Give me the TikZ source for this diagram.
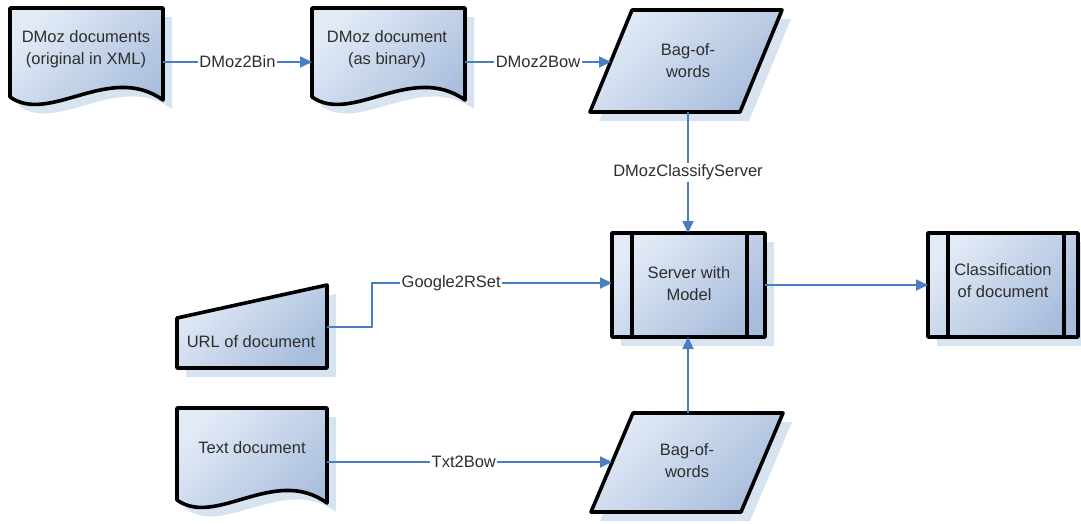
\documentclass[tikz,border=0pt]{standalone}
\usepackage{fontspec}
\setmainfont{Liberation Sans}
\usetikzlibrary{arrows.meta}
\definecolor{shapelight}{HTML}{E2EAF6}
\definecolor{shapedark}{HTML}{A8BDDC}
\definecolor{shadowc}{HTML}{D8E3F0}
\definecolor{connc}{HTML}{4A7DC2}
\definecolor{txtc}{HTML}{2E2E2E}
\newcommand\docpath[4]{(#1,#2) -- (#3,#2) -- (#3,#4+3) .. controls (#1+0.65*#3-0.65*#1,#4-35) and (#1+0.26*#3-0.26*#1,#4+28) .. (#1,#4) -- cycle}
\begin{document}
\begin{tikzpicture}[x=1pt,y=-1pt,
  shapebox/.style={line width=3.6pt, line join=round, draw=black, top color=shapelight, bottom color=shapedark, shading angle=45},
  shadowbox/.style={fill=shadowc},
  txt/.style={font=\fontsize{16.5}{22}\selectfont, text=txtc, align=center, inner sep=0pt},
  conn/.style={draw=connc, line width=1.8pt, -{Triangle[length=12pt,width=11pt]}},
  lab/.style={font=\fontsize{16.5}{20}\selectfont, text=txtc, fill=white, inner sep=1.5pt}]
\useasboundingbox (0,0) rectangle (1081,523);
% ---- shadows
\begin{scope}[shift={(9,9)}]
\fill[shadowc] \docpath{10}{8}{163}{97};
\fill[shadowc] \docpath{312}{8}{465}{97};
\fill[shadowc] \docpath{177}{408}{327}{500};
\fill[shadowc] (632,10) -- (782,10) -- (740,112) -- (590,112) -- cycle;
\fill[shadowc] (633,413) -- (783,413) -- (741,512) -- (591,512) -- cycle;
\fill[shadowc] (612,233) rectangle (765,337);
\fill[shadowc] (928,233) rectangle (1078,337);
\fill[shadowc] (177,318) -- (327,285) -- (327,368) -- (177,368) -- cycle;
\end{scope}
% ---- shapes
\path[shapebox] \docpath{10}{8}{163}{97};
\path[shapebox] \docpath{312}{8}{465}{97};
\path[shapebox] \docpath{177}{408}{327}{500};
\path[shapebox] (632,10) -- (782,10) -- (740,112) -- (590,112) -- cycle;
\path[shapebox] (633,413) -- (783,413) -- (741,512) -- (591,512) -- cycle;
\path[shapebox] (612,233) rectangle (765,337);
\draw[line width=3.6pt] (632,233) -- (632,337) (747,233) -- (747,337);
\path[shapebox] (928,233) rectangle (1078,337);
\draw[line width=3.6pt] (948,233) -- (948,337) (1064,233) -- (1064,337);
\path[shapebox] (177,318) -- (327,285) -- (327,368) -- (177,368) -- cycle;
% ---- texts
\node[txt] (dmozdocs) at (86,49) {DMoz documents\\(original in XML)};
\node[txt] (dmozbin) at (387,49) {DMoz document\\(as binary)};
\node[txt] (bowtop) at (688,61) {Bag-of-\\words};
\node[txt] (server) at (689,284) {Server with\\Model};
\node[txt] (classif) at (1003,281) {Classification\\of document};
\node[txt] (url) at (251,342) {URL of document};
\node[txt] (textdoc) at (252,448) {Text document};
\node[txt] (bowbot) at (687,461) {Bag-of-\\words};
% ---- ports
\coordinate (d1out) at (163,62);
\coordinate (d2in) at (312,62);
\coordinate (d2out) at (465,62);
\coordinate (bt_in) at (611,62);
\coordinate (bt_out) at (688,112);
\coordinate (srv_top) at (688,233);
\coordinate (srv_left) at (612,283);
\coordinate (srv_right) at (765,285);
\coordinate (srv_bot) at (688,337);
\coordinate (cls_in) at (928,285);
\coordinate (url_out) at (327,327);
\coordinate (bend1) at (372,327);
\coordinate (bend2) at (372,283);
\coordinate (td_out) at (327,462);
\coordinate (bb_in) at (612,462);
\coordinate (bb_out) at (688,413);
% ---- connectors
\draw[conn] (d1out) -- node[lab] {DMoz2Bin} (d2in);
\draw[conn] (d2out) -- node[lab] {DMoz2Bow} (bt_in);
\draw[conn] (bt_out) -- node[lab] {DMozClassifyServer} (srv_top);
\draw[conn] (url_out) -- (bend1) -- (bend2) -- node[lab, pos=0.33] {Google2RSet} (srv_left);
\draw[conn] (td_out) -- node[lab, pos=0.48] {Txt2Bow} (bb_in);
\draw[conn] (bb_out) -- (srv_bot);
\draw[conn] (srv_right) -- (cls_in);
\end{tikzpicture}
\end{document}
